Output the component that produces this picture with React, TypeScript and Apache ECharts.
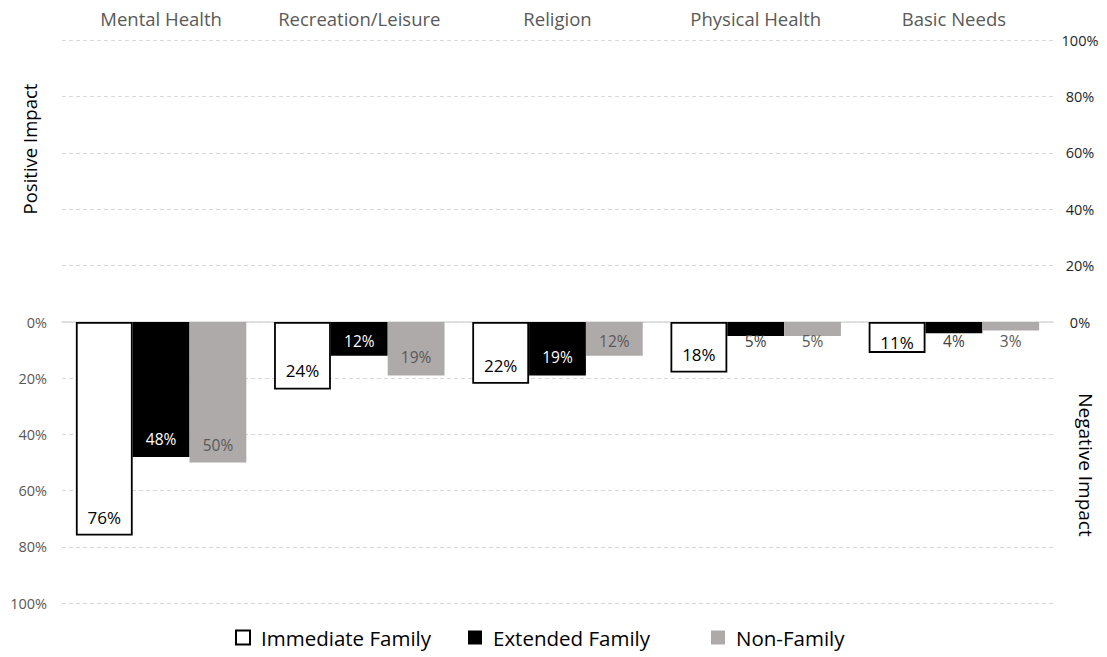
import React, { useEffect, useRef } from "react";
import * as echarts from "echarts";

// Impact share by life domain, per relationship group (percent)
const categories = ["Mental Health", "Recreation/Leisure", "Religion", "Physical Health", "Basic Needs"];
const seriesNames = ["Immediate Family", "Extended Family", "Non-Family"];
const immediateFamily = [76, 24, 22, 18, 11];
const extendedFamily = [48, 12, 19, 5, 4];
const nonFamily = [50, 19, 12, 5, 3];
const axisMax = 100;
const axisStep = 20;

const FONT = "'Open Sans', 'Noto Sans', sans-serif";
const GRID_LEFT = 62;
const GRID_RIGHT = 54;
const MID_Y = 322;
const LEGEND_LEFTS = [230, 463, 706];

// Short bars keep their label just under the zero line (it may hang past the bar end)
function labelFor(value: number, baseSize: number, color: string, shortColor: string) {
  const short = value < 14;
  return {
    value,
    label: short
      ? { position: "insideTop", distance: baseSize > 16 ? 12 : 11, color: value < 8 ? shortColor : color }
      : { position: "insideBottom", distance: 10, color },
  };
}

export default function App() {
  const ref = useRef<HTMLDivElement>(null);

  useEffect(() => {
    if (!ref.current) return;
    const chart = echarts.init(ref.current, undefined, { renderer: "svg" });

    const gridLine = { show: true, lineStyle: { color: "#D9D9D9", type: [4, 3] as any, width: 1 } };

    chart.setOption({
      animation: false,
      backgroundColor: "#ffffff",
      textStyle: { fontFamily: FONT },
      grid: [
        { left: GRID_LEFT, right: GRID_RIGHT, top: 40, height: MID_Y - 40 },
        { left: GRID_LEFT, right: GRID_RIGHT, top: MID_Y, height: 603 - MID_Y },
      ],
      xAxis: [
        {
          type: "category",
          gridIndex: 0,
          data: categories,
          position: "top",
          axisLine: { show: false },
          axisTick: { show: false },
          axisLabel: { color: "#595959", fontSize: 18.5, fontFamily: FONT, margin: 12, interval: 0 },
        },
        {
          type: "category",
          gridIndex: 1,
          data: categories,
          position: "top",
          axisLine: { show: true, lineStyle: { color: "#D9D9D9", width: 1.5 } },
          axisTick: { show: false },
          axisLabel: { show: false },
        },
      ],
      yAxis: [
        {
          type: "value",
          gridIndex: 0,
          position: "right",
          min: 0,
          max: axisMax,
          interval: axisStep,
          axisLine: { show: false },
          axisTick: { show: false },
          splitLine: gridLine,
          axisLabel: {
            formatter: "{value}%",
            color: "#262626",
            fontSize: 14.5,
            fontFamily: FONT,
            align: "center",
            margin: 27,
          },
        },
        {
          type: "value",
          gridIndex: 1,
          position: "left",
          inverse: true,
          min: 0,
          max: axisMax,
          interval: axisStep,
          axisLine: { show: false },
          axisTick: { show: false },
          splitLine: gridLine,
          axisLabel: {
            formatter: "{value}%",
            color: "#595959",
            fontSize: 14.5,
            fontFamily: FONT,
            margin: 15,
          },
        },
      ],
      legend: seriesNames.map((name, i) => ({
        left: LEGEND_LEFTS[i],
        top: 622,
        itemWidth: 14,
        itemHeight: 14,
        icon: "rect",
        textStyle: { color: "#000000", fontSize: 20.5, fontFamily: FONT, padding: [0, 0, 0, 6] },
        data: [name],
      })),
      graphic: [
        {
          type: "text",
          x: 29,
          y: 149,
          rotation: Math.PI / 2,
          style: {
            text: "Positive Impact",
            fill: "#000000",
            font: `18.5px ${FONT}`,
            align: "center",
            verticalAlign: "middle",
          },
        },
        {
          type: "text",
          x: 1086,
          y: 465,
          rotation: -Math.PI / 2,
          style: {
            text: "Negative Impact",
            fill: "#000000",
            font: `19px ${FONT}`,
            align: "center",
            verticalAlign: "middle",
          },
        },
      ],
      series: [
        {
          name: seriesNames[0],
          type: "bar",
          xAxisIndex: 1,
          yAxisIndex: 1,
          barGap: "0%",
          barCategoryGap: "14%",
          itemStyle: { color: "#ffffff", borderColor: "#000000", borderWidth: 1.8 },
          label: { show: true, formatter: "{c}%", fontSize: 17, fontFamily: FONT },
          data: immediateFamily.map((v) => labelFor(v, 17, "#000000", "#000000")),
        },
        {
          name: seriesNames[1],
          type: "bar",
          xAxisIndex: 1,
          yAxisIndex: 1,
          barGap: "0%",
          barCategoryGap: "14%",
          itemStyle: { color: "#000000" },
          label: { show: true, formatter: "{c}%", fontSize: 15.5, fontFamily: FONT },
          data: extendedFamily.map((v) => labelFor(v, 15.5, "#ffffff", "#404040")),
        },
        {
          name: seriesNames[2],
          type: "bar",
          xAxisIndex: 1,
          yAxisIndex: 1,
          barGap: "0%",
          barCategoryGap: "14%",
          itemStyle: { color: "#AEAAAA" },
          label: { show: true, formatter: "{c}%", fontSize: 15.5, fontFamily: FONT },
          data: nonFamily.map((v) => labelFor(v, 15.5, "#595959", "#595959")),
        },
      ],
    });

    return () => chart.dispose();
  }, []);

  return (
    <div
      ref={ref}
      style={{ position: "fixed", left: 0, top: 0, width: 1107, height: 657, background: "#fff" }}
    />
  );
}
